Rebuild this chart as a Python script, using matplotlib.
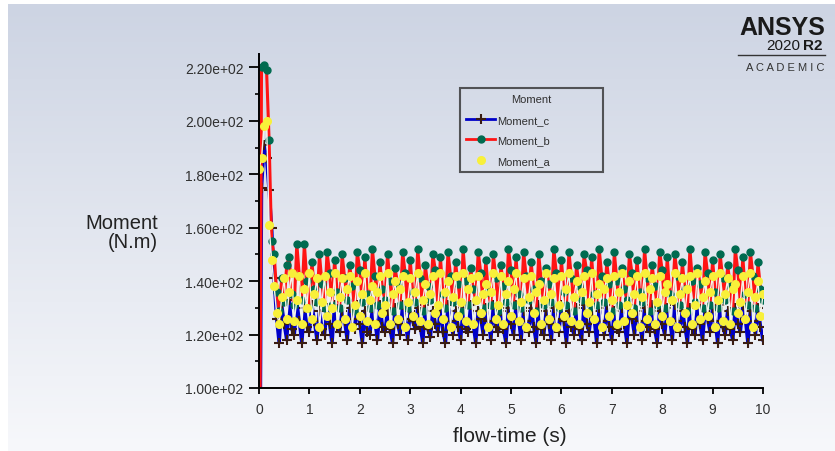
import numpy as np
import matplotlib.pyplot as plt
from matplotlib.lines import Line2D

plt.rcParams['font.family'] = ['Liberation Sans', 'DejaVu Sans']

# 시간 간격 0.05 s
dt = 0.05

moment_b = [0, 220, 221, 219, 193, 155, 150, 136, 129, 141,
            132, 146, 149, 135, 131, 154, 142, 133, 154, 140,
            130, 147, 137, 132, 150, 139, 130, 151, 143, 131,
            148, 136, 130, 150, 141, 133, 146, 138, 129, 151,
            144, 132, 149, 135, 130, 152, 142, 131, 147, 137,
            133, 150, 140, 129, 145, 139, 131, 151, 143, 130,
            148, 136, 132, 152, 141, 129, 146, 138, 133, 150,
            144, 131, 149, 135, 130, 151, 142, 132, 147, 139,
            129, 152, 140, 131, 145, 137, 133, 151, 143, 130,
            148, 136, 131, 150, 141, 129, 146, 138, 132, 152,
            144, 131, 149, 135, 130, 151, 142, 133, 147, 137,
            129, 150, 140, 131, 145, 139, 132, 152, 143, 130,
            148, 136, 131, 151, 141, 129, 146, 138, 133, 150,
            144, 130, 149, 135, 131, 152, 142, 132, 147, 139,
            129, 151, 140, 131, 145, 137, 133, 150, 143, 130,
            148, 136, 132, 152, 141, 129, 146, 138, 131, 151,
            144, 130, 149, 135, 133, 150, 142, 131, 147, 137,
            129, 152, 140, 132, 145, 139, 130, 151, 143, 131,
            148, 136, 130, 150, 141, 133, 146, 138, 129, 152,
            144, 132, 149, 135, 131, 151, 142, 130, 147, 137,
            133]

moment_c = [0, 175, 191, 186, 174, 160, 141, 126, 117, 131,
            124, 118, 133, 122, 120, 132, 125, 117, 130, 123,
            121, 131, 125, 118, 129, 122, 120, 130, 124, 117,
            131, 123, 121, 129, 125, 118, 130, 126, 122, 131,
            124, 117, 129, 121, 120, 130, 125, 118, 131, 123,
            121, 129, 122, 117, 130, 124, 120, 131, 126, 118,
            129, 125, 122, 130, 123, 117, 131, 122, 119, 129,
            124, 121, 130, 121, 117, 131, 125, 120, 129, 123,
            118, 130, 122, 121, 131, 124, 117, 129, 126, 120,
            130, 125, 118, 131, 123, 121, 129, 122, 117, 130,
            124, 120, 131, 126, 118, 129, 125, 121, 130, 123,
            117, 131, 122, 120, 129, 124, 118, 130, 126, 121,
            131, 125, 117, 129, 123, 120, 130, 122, 118, 131,
            124, 121, 129, 126, 117, 130, 125, 120, 131, 123,
            118, 129, 122, 121, 130, 124, 117, 131, 126, 120,
            129, 125, 118, 130, 123, 121, 131, 122, 117, 129,
            124, 120, 130, 126, 118, 131, 125, 121, 129, 123,
            117, 130, 122, 120, 131, 124, 118, 129, 126, 121,
            130, 125, 117, 131, 123, 120, 129, 122, 118, 130,
            124, 121, 131, 126, 117, 129, 125, 120, 130, 123,
            118]

moment_a = [182, 186, 198, 200, 161, 148, 138, 128, 124, 134,
            141, 126, 136, 143, 125, 133, 142, 124, 137, 130,
            143, 126, 135, 141, 123, 132, 142, 127, 136, 130,
            143, 124, 134, 141, 126, 137, 142, 123, 131, 140,
            127, 135, 143, 125, 133, 138, 124, 136, 142, 128,
            131, 143, 124, 135, 140, 126, 137, 142, 123, 132,
            141, 127, 136, 143, 125, 133, 139, 124, 135, 142,
            128, 131, 143, 126, 136, 140, 123, 134, 142, 127,
            132, 143, 125, 137, 141, 124, 133, 142, 128, 135,
            139, 123, 136, 143, 126, 131, 142, 124, 135, 140,
            127, 137, 143, 125, 132, 141, 123, 134, 142, 128,
            136, 139, 124, 133, 143, 126, 135, 141, 123, 131,
            142, 127, 137, 143, 125, 134, 140, 124, 136, 142,
            128, 132, 143, 126, 135, 139, 123, 137, 141, 127,
            133, 142, 124, 136, 143, 125, 131, 140, 128, 135,
            142, 123, 134, 143, 126, 137, 141, 124, 132, 142,
            127, 136, 139, 125, 133, 143, 123, 135, 141, 128,
            137, 142, 124, 131, 143, 126, 134, 140, 127, 136,
            142, 123, 133, 143, 125, 135, 141, 124, 137, 139,
            128, 132, 142, 126, 136, 143, 123, 134, 140, 127,
            135]

y_ticks = [100, 120, 140, 160, 180, 200, 220]
x_ticks = list(range(0, 11))

fig = plt.figure(figsize=(8.35, 4.52), dpi=100, facecolor='white')

# 배경 그라데이션
bg = fig.add_axes([0.009, 0.0, 0.991, 0.988], zorder=0)
top = np.array([205, 212, 227]) / 255
bot = np.array([247, 248, 251]) / 255
g = np.linspace(0, 1, 256)[:, None, None]
bg.imshow(top * (1 - g) + bot * g, aspect='auto', extent=[0, 1, 0, 1])
bg.axis('off')

ax = fig.add_axes([259/835, 1-389/452, 504/835, 334/452], zorder=1)
ax.patch.set_alpha(0)

tc = np.arange(len(moment_c)) * dt
tb = np.arange(len(moment_b)) * dt
ta = np.arange(len(moment_a)) * dt

ax.plot(tc, moment_c, color='#0000c8', lw=2.5, marker='+', ms=7, mew=1.5,
        mec='#3a1c12', label='Moment_c')
ax.plot(tb, moment_b, color='#ff1414', lw=2.2, marker='o', ms=5,
        mfc='#006b50', mec='#006b50', label='Moment_b')
ax.plot(ta, moment_a, color='#f4f4ea', lw=1, marker='o', ms=5.5,
        mfc='#f8f03a', mec='#f8f03a', label='Moment_a')

ax.set_xlim(0, 10)
ax.set_ylim(100, 225)
ax.set_xticks(x_ticks)
ax.set_yticks(y_ticks)
ax.set_yticks(np.arange(110, 225, 20), minor=True)
ax.yaxis.set_major_formatter(plt.FuncFormatter(lambda v, p: '%.2e' % v))
for s in ['top', 'right']:
    ax.spines[s].set_visible(False)
for s in ['left', 'bottom']:
    ax.spines[s].set_linewidth(1.4)
ax.tick_params(axis='y', which='major', length=7, width=1.3, pad=4,
               labelsize=10, labelcolor='#303030')
ax.tick_params(axis='y', which='minor', length=3, width=1.2)
ax.tick_params(axis='x', which='major', length=4, width=1.3, pad=6,
               labelsize=10, labelcolor='#303030')

handles = [
    Line2D([], [], color='#0000c8', lw=2, marker='+', ms=7, mew=1.5, mec='#3a1c12'),
    Line2D([], [], color='#ff1414', lw=2, marker='o', ms=5, mfc='#006b50', mec='#006b50'),
    Line2D([], [], color='none', marker='o', ms=5.5, mfc='#f8f03a', mec='#f8f03a'),
]
leg = ax.legend(handles, ['Moment_c', 'Moment_b', 'Moment_a'], title='Moment',
                loc='upper left', bbox_to_anchor=(0.399, 0.656, 0.284, 0.242),
                mode='expand', fontsize=8, title_fontsize=8, frameon=True,
                fancybox=False, handlelength=2.6, handletextpad=0.2,
                labelspacing=0.95, borderpad=0.55, borderaxespad=0)
leg.get_frame().set_edgecolor('#303030')
leg.get_frame().set_linewidth(1.5)
leg.get_frame().set_facecolor('none')
for t in leg.get_texts():
    t.set_color('#303030')
leg.get_title().set_color('#303030')

fig.text(158/835, 1-233/452, 'Moment\n(N.m)', ha='right', va='center',
         multialignment='right', fontsize=14.5, linespacing=1.0, color='#222222')
fig.text(510/835, 1-437/452, 'flow-time (s)', ha='center', va='center',
         fontsize=15, color='#222222')

# ANSYS 로고
fig.text(825/835, 1-16/452, 'ANSYS', ha='right', va='top', fontsize=18,
         fontweight='bold', color='#1a1a1a')
fig.text(822/835, 1-39/452, 'R2', ha='right', va='top', fontsize=11,
         fontweight='bold', color='#1a1a1a')
fig.text(800/835, 1-39/452, '2020', ha='right', va='top', fontsize=11,
         color='#1a1a1a')
fig.add_artist(Line2D([738/835, 825/835], [1-56/452, 1-56/452], color='#333333', lw=1))
fig.text(825/835, 1-63/452, 'A C A D E M I C', ha='right', va='top', fontsize=8,
         color='#333333')

fig.savefig('out.png', dpi=100, facecolor='white')
